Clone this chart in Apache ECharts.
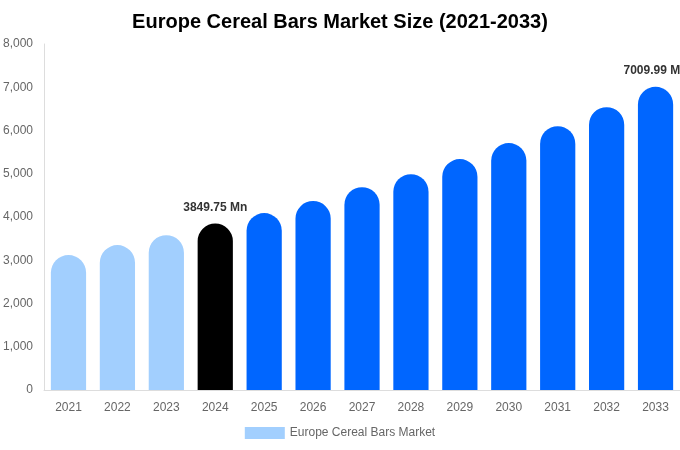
<!DOCTYPE html>
<html>
<head>
<meta charset="utf-8">
<script src="https://cdn.jsdelivr.net/npm/echarts@6/dist/echarts.min.js"></script>
<style>
  html, body { margin: 0; padding: 0; background: #fff; }
  #chart { width: 680px; height: 450px; }
</style>
</head>
<body>
<div id="chart"></div>
<script>
var years = ['2021', '2022', '2023', '2024', '2025', '2026', '2027', '2028', '2029', '2030', '2031', '2032', '2033'];
var marketSize = [3120, 3350, 3580, 3849.75, 4090, 4370, 4690, 4990, 5340, 5710, 6100, 6540, 7009.99];
var yTicks = [0, 1000, 2000, 3000, 4000, 5000, 6000, 7000, 8000];
var labelYears = ['2024', '2033'];

var chart = echarts.init(document.getElementById('chart'));

// colour per bar: history light blue, base year black, forecast blue
function barColor(year) {
    if (year < '2024') return '#a2cffe';
    if (year === '2024') return '#000000';
    return '#0066ff';
}

var barData = years.map(function (y, i) {
    var item = {
        value: marketSize[i],
        itemStyle: { color: barColor(y) }
    };
    if (labelYears.indexOf(y) >= 0) {
        item.label = {
            show: true,
            position: 'top',
            distance: 10,
            overflow: 'none',
            formatter: marketSize[i].toFixed(2) + ' Mn',
            color: '#333',
            fontWeight: 'bold',
            fontSize: 12,
            fontFamily: 'Liberation Sans, Arial, sans-serif'
        };
    }
    return item;
});

var option = {
    textStyle: { fontFamily: 'Liberation Sans, Arial, sans-serif' },
    title: {
        text: 'Europe Cereal Bars Market Size (2021-2033)',
        left: 'center',
        top: 7,
        textStyle: { fontSize: 20, fontWeight: 'bold', color: '#000' }
    },
    legend: {
        bottom: 6,
        left: 'center',
        icon: 'rect',
        itemWidth: 40,
        itemHeight: 12,
        itemGap: 6,
        textStyle: { color: '#666', fontSize: 12 },
        data: [{ name: 'Europe Cereal Bars Market', itemStyle: { color: '#a2cffe' } }]
    },
    grid: { left: 44, right: 0, top: 44, bottom: 60 },
    xAxis: {
        type: 'category',
        data: years,
        axisLine: { lineStyle: { color: '#ddd' } },
        axisTick: { show: false },
        axisLabel: { color: '#666', fontSize: 12, margin: 12 }
    },
    yAxis: {
        type: 'value',
        min: yTicks[0],
        max: yTicks[yTicks.length - 1],
        interval: yTicks[1] - yTicks[0],
        axisLine: { show: true, lineStyle: { color: '#ddd' } },
        splitLine: { show: false },
        axisLabel: {
            color: '#666',
            fontSize: 12,
            margin: 11,
            formatter: function (v) { return v.toLocaleString('en-US'); }
        }
    },
    series: [{
        name: 'Europe Cereal Bars Market',
        type: 'bar',
        barWidth: '72%',
        itemStyle: { borderRadius: [18, 18, 0, 0] },
        data: barData
    }]
};

chart.setOption(option);
</script>
</body>
</html>
